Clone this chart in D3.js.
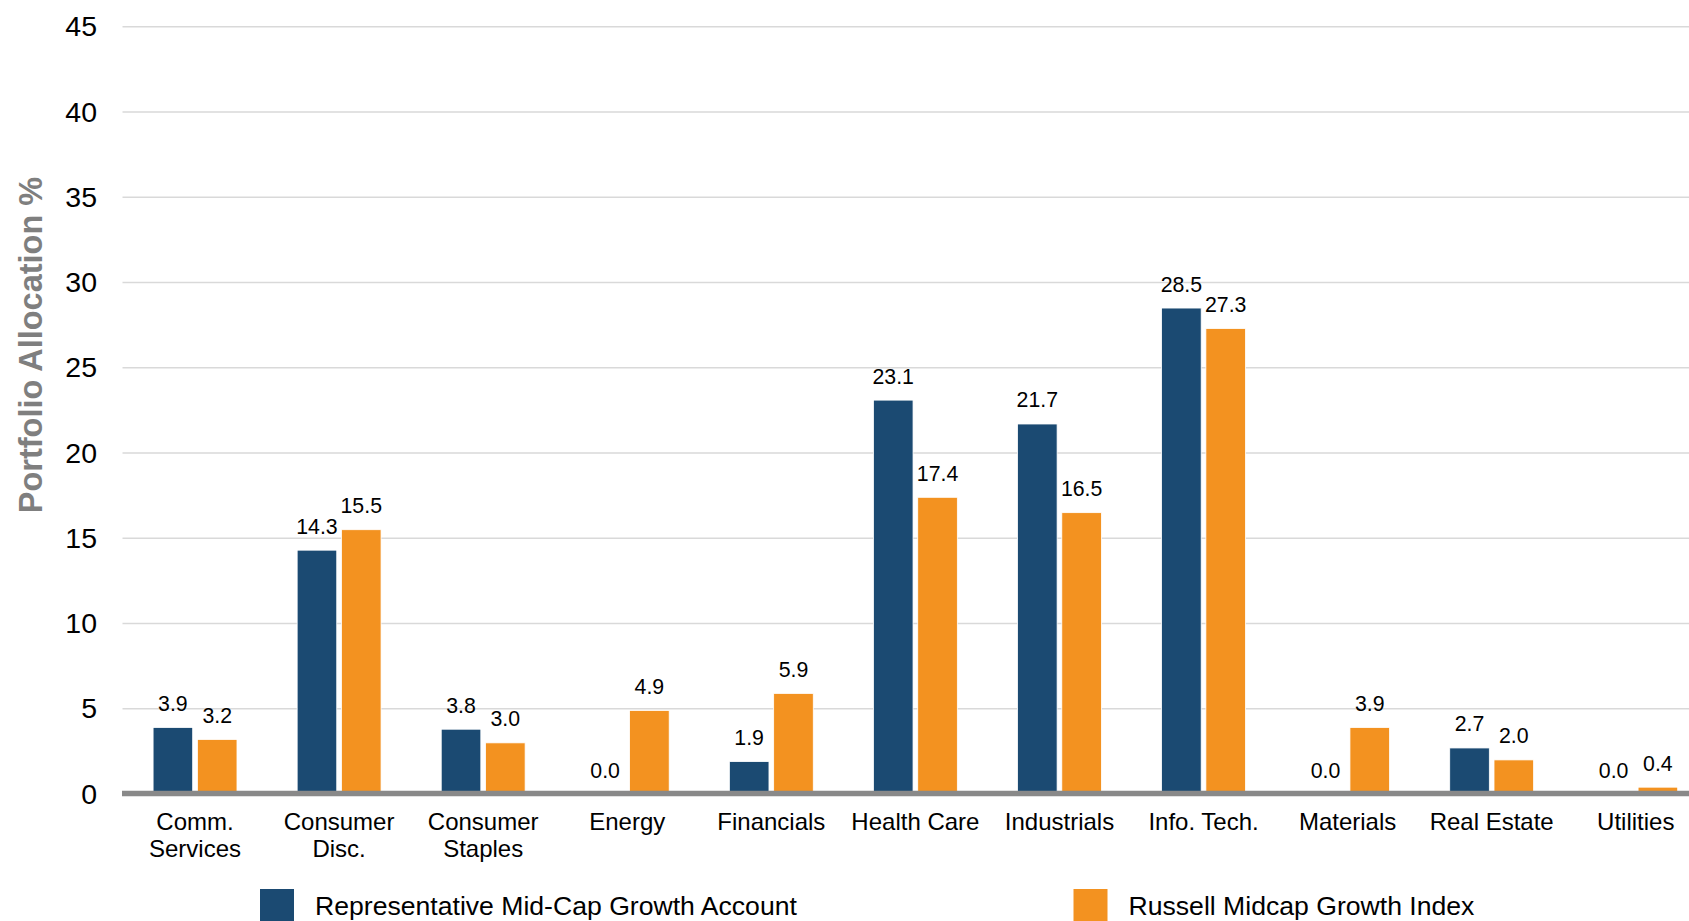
<!DOCTYPE html>
<html>
<head>
<meta charset="utf-8">
<script src="https://cdn.jsdelivr.net/npm/d3@7"></script>
<style>
  html, body { margin: 0; padding: 0; background: #ffffff; overflow: hidden; }
  svg { display: block; font-family: "Liberation Sans", Arial, sans-serif; }
</style>
</head>
<body>
<svg id="chart" width="1689" height="921"></svg>
<script>
// Sector allocation, account vs. benchmark (%)
const categories = ["Comm.|Services", "Consumer|Disc.", "Consumer|Staples", "Energy", "Financials",
                    "Health Care", "Industrials", "Info. Tech.", "Materials", "Real Estate", "Utilities"];
const seriesNames = ["Representative Mid-Cap Growth Account", "Russell Midcap Growth Index"];
const accountValues = [3.9, 14.3, 3.8, 0.0, 1.9, 23.1, 21.7, 28.5, 0.0, 2.7, 0.0];
const indexValues   = [3.2, 15.5, 3.0, 4.9, 5.9, 17.4, 16.5, 27.3, 3.9, 2.0, 0.4];
const yTicks = [0, 5, 10, 15, 20, 25, 30, 35, 40, 45];
const colors = ["#1b4a72", "#f39220"];

const svg = d3.select("#chart");
const W = 1689;

// Plot geometry (the band range runs past the right edge, so the last group sits near the border)
const x0 = 123, step = 144.07;
const x = d3.scaleBand().domain(categories).range([x0, x0 + step * categories.length]).padding(0);
const xs = d3.scaleBand().domain(seriesNames).range([-41.95, 41.95]).paddingInner(0.106);
const y = d3.scaleLinear().domain([0, 45]).range([794, 26.7]);

// Gridlines + y tick labels
const yAxis = d3.axisLeft(y).tickValues(yTicks).tickSize(0).tickPadding(0).tickFormat(d3.format("d"));
const gy = svg.append("g").attr("transform", "translate(97,0)").call(yAxis);
gy.select(".domain").remove();
gy.selectAll("text").attr("font-size", 28.5).attr("fill", "#000").attr("font-family", "Liberation Sans, Arial, sans-serif");

svg.append("g").selectAll("line").data(yTicks.filter(d => d > 0)).join("line")
  .attr("x1", 122.5).attr("x2", W)
  .attr("y1", d => y(d)).attr("y2", d => y(d))
  .attr("stroke", "#d9d9d9").attr("stroke-width", 1.6);

// Y axis title
svg.append("text")
  .attr("transform", "translate(42,345) rotate(-90)")
  .attr("text-anchor", "middle")
  .attr("font-size", 32.5).attr("font-weight", "bold").attr("fill", "#7f7f7f")
  .text("Portfolio Allocation %");

// Bars
const rows = categories.map((c, i) => ({ cat: c, vals: [accountValues[i], indexValues[i]] }));
const groups = svg.append("g").selectAll("g").data(rows).join("g")
  .attr("transform", d => `translate(${x(d.cat) + x.bandwidth() / 2},0)`);

groups.selectAll("rect").data(d => d.vals.map((v, k) => ({ v, k }))).join("rect")
  .attr("x", d => xs(seriesNames[d.k]))
  .attr("width", xs.bandwidth())
  .attr("y", d => y(d.v))
  .attr("height", d => y(0) - y(d.v))
  .attr("fill", d => colors[d.k])
  .attr("stroke", "#ffffff").attr("stroke-width", 0.8)
  .style("display", d => d.v > 0 ? null : "none");

// Value labels
groups.selectAll("text.val").data(d => d.vals.map((v, k) => ({ v, k }))).join("text")
  .attr("class", "val")
  .attr("x", d => xs(seriesNames[d.k]) + xs.bandwidth() / 2)
  .attr("y", d => y(d.v) - 16.5)
  .attr("text-anchor", "middle")
  .attr("font-size", 21.3).attr("fill", "#000")
  .text(d => d3.format(".1f")(d.v));

// Baseline
svg.append("line")
  .attr("x1", 122).attr("x2", W)
  .attr("y1", y(0) - 0.5).attr("y2", y(0) - 0.5)
  .attr("stroke", "#898989").attr("stroke-width", 5.5);

// Category labels (two-line where needed)
const xAxis = d3.axisBottom(x).tickSize(0).tickPadding(0);
const gx = svg.append("g").call(xAxis);
gx.select(".domain").remove();
gx.selectAll("text").each(function(d) {
  const t = d3.select(this);
  t.text(null).attr("y", 0).attr("dy", null)
   .attr("font-size", 24).attr("fill", "#000")
   .attr("font-family", "Liberation Sans, Arial, sans-serif");
  d.split("|").forEach((line, i) => {
    t.append("tspan").attr("x", 0).attr("y", 830 + i * 27).text(line);
  });
});

// Legend
const legendX = [260, 1073.5];
const lg = svg.append("g").selectAll("g").data(seriesNames).join("g")
  .attr("transform", (d, i) => `translate(${legendX[i]},889)`);
lg.append("rect").attr("width", 34).attr("height", 34).attr("fill", (d, i) => colors[i]);
lg.append("text").attr("x", 55).attr("y", 26)
  .attr("font-size", 26.6).attr("fill", "#000").text(d => d);
</script>
</body>
</html>
